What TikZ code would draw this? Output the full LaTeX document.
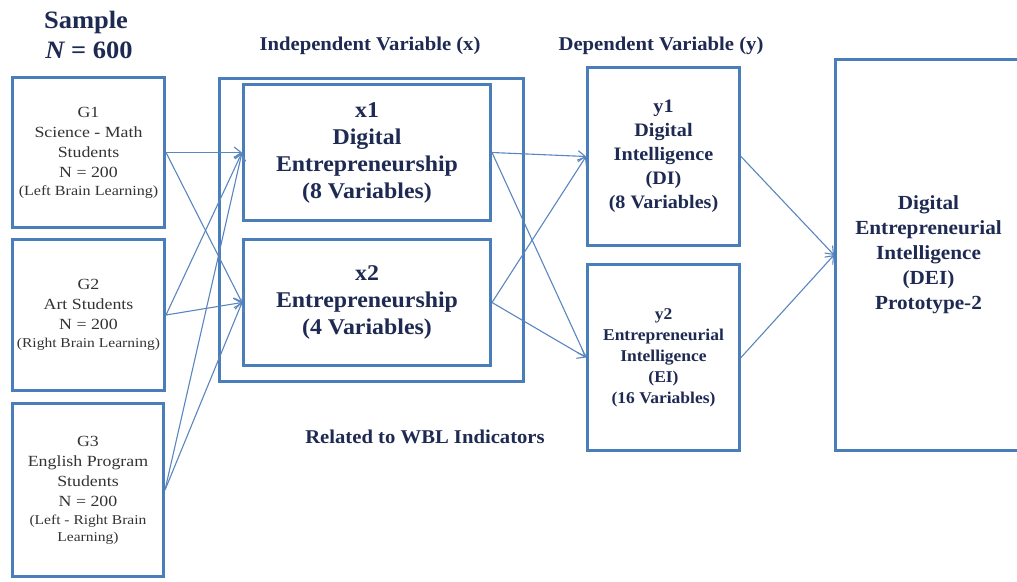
\documentclass[tikz,border=0pt]{standalone}
\usepackage{fontspec}
\setmainfont{Liberation Serif}
\newfontfamily\grpfont[FakeStretch=1.15]{Liberation Serif}
\newfontfamily\headfont[FakeStretch=1.06]{Liberation Serif}
\usetikzlibrary{arrows.meta}

\definecolor{boxblue}{HTML}{4A7EBB}
\definecolor{arrowblue}{HTML}{5A86BF}
\definecolor{navy}{HTML}{1E2A52}
\definecolor{grptext}{HTML}{333333}

\tikzset{
  frame/.style={draw=boxblue, line width=3pt, inner sep=0pt, align=center},
  grpbox/.style={frame, text=grptext, font=\grpfont\fontsize{15.5}{20}\selectfont},
  varbox/.style={frame, text=navy, font=\headfont\bfseries},
  link/.style={draw=arrowblue, line width=1.1pt, -{Straight Barb[length=7pt,width=11pt]}},
  heading/.style={text=navy, inner sep=0pt, font=\headfont\bfseries\fontsize{19.5}{24}\selectfont}
}

\begin{document}
\begin{tikzpicture}[x=1pt,y=-1pt]
\useasboundingbox (0,0) rectangle (1017,581);
\clip (0,0) rectangle (1017,581);

% sample groups
\node[grpbox, minimum width=152pt, minimum height=150pt] (g1) at (88.5,152.5)
  {G1\\Science - Math\\Students\\N = 200\\[-2pt]{\fontsize{14}{17}\selectfont(Left Brain Learning)}};
\node[grpbox, minimum width=152pt, minimum height=151pt] (g2) at (88.5,315)
  {G2\\Art Students\\N = 200\\[-2pt]{\fontsize{13.5}{17}\selectfont(Right Brain Learning)}};
\node[grpbox, minimum width=151pt, minimum height=173pt] (g3) at (88,490)
  {G3\\English Program\\Students\\N = 200\\[-2pt]{\fontsize{13.5}{17}\selectfont(Left - Right Brain}\\[-3pt]{\fontsize{13.5}{17}\selectfont Learning)}};

% independent variables
\node[frame, minimum width=304pt, minimum height=303pt] (xgroup) at (371.5,230) {};
\node[varbox, font=\headfont\bfseries\fontsize{22.5}{27}\selectfont,
      minimum width=247pt, minimum height=136pt] (x1) at (367,152.5)
  {x1\\Digital\\Entrepreneurship\\(8 Variables)};
\node[varbox, font=\headfont\bfseries\fontsize{22.5}{27}\selectfont,
      minimum width=247pt, minimum height=126pt] (x2) at (367,302.5)
  {x2\\Entrepreneurship\\(4 Variables)};

% dependent variables
\node[varbox, font=\headfont\bfseries\fontsize{19}{24}\selectfont,
      minimum width=152pt, minimum height=178pt] (y1) at (663.5,156.5)
  {y1\\Digital\\Intelligence\\(DI)\\(8 Variables)};
\node[varbox, font=\headfont\bfseries\fontsize{16.5}{21}\selectfont,
      minimum width=152pt, minimum height=186pt] (y2) at (663.5,357.5)
  {y2\\Entrepreneurial\\Intelligence\\(EI)\\(16 Variables)};

% outcome
\node[varbox, font=\headfont\bfseries\fontsize{20}{25}\selectfont,
      minimum width=186pt, minimum height=391pt] (dei) at (928.5,255)
  {Digital\\Entrepreneurial\\Intelligence\\(DEI)\\Prototype-2};

% headings
\node[heading, font=\headfont\bfseries\fontsize{25}{30}\selectfont] (sample) at (86,22) {Sample};
\node[heading, font=\headfont\bfseries\fontsize{25}{30}\selectfont] (ntotal) at (89,50) {{\itshape N} = 600};
\node[heading] (indep) at (370,46) {Independent Variable (x)};
\node[heading] (dep) at (661,46) {Dependent Variable (y)};
\node[heading] (wbl) at (425,437) {Related to WBL Indicators};

% connectors
\draw[link] (g1.east) -- (x1.west);
\draw[link] (g1.east) -- (x2.west);
\draw[link] (g2.east) -- (x1.west);
\draw[link] (g2.east) -- (x2.west);
\draw[link] (g3.east) -- (x1.west);
\draw[link] (g3.east) -- (x2.west);
\draw[link] (x1.east) -- (y1.west);
\draw[link] (x1.east) -- (y2.west);
\draw[link] (x2.east) -- (y1.west);
\draw[link] (x2.east) -- (y2.west);
\draw[link] (y1.east) -- (dei.west);
\draw[link] (y2.east) -- (dei.west);
\end{tikzpicture}
\end{document}
